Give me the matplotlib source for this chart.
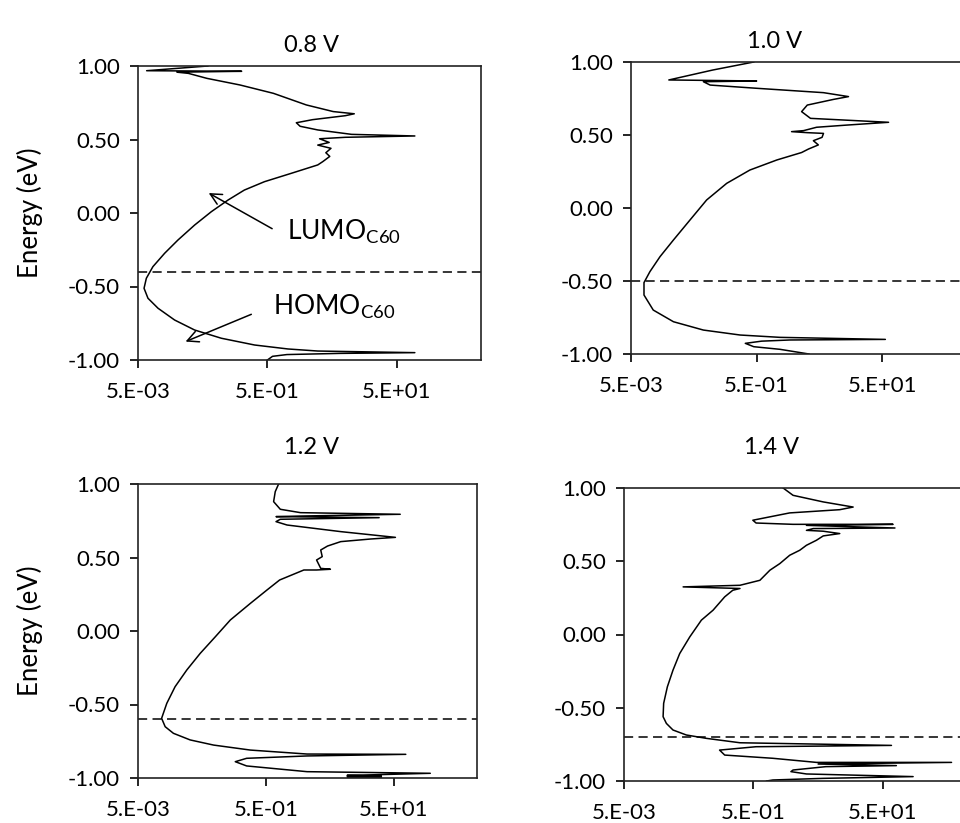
import matplotlib
matplotlib.use("Agg")
import matplotlib.pyplot as plt

plt.rcParams['font.family'] = ['Lato', 'DejaVu Sans']
plt.rcParams['mathtext.fontset'] = 'custom'
plt.rcParams['mathtext.rm'] = 'Lato'

# ---------------- data ----------------
titles = ["0.8 V", "1.0 V", "1.2 V", "1.4 V"]
xtick_vals = [0.005, 0.5, 50]
xtick_labels = ["5.E-03", "5.E-01", "5.E+01"]
ytick_vals = [-1.0, -0.5, 0.0, 0.5, 1.0]
ytick_labels = ["-1.00", "-0.50", "0.00", "0.50", "1.00"]
fermi_levels = [-0.40, -0.50, -0.60, -0.70]

dos_08 = [0.06, 0.0068, 0.20, 0.02, 0.03, 0.058, 0.188, 0.62, 2.0, 5.2, 11, 8, 2.5, 1.4,
          1.6, 3.0, 10, 95, 8, 3.2, 4.5, 3.0, 4.8, 4.0, 4.6, 3.6, 3.0, 1.17, 0.45, 0.22,
          0.123, 0.068, 0.0375, 0.0207, 0.0129, 0.0085, 0.00673, 0.0062, 0.00713, 0.0102,
          0.0184, 0.0375, 0.097, 0.317, 1.04, 3.0, 95, 6.6, 1.0, 0.6, 0.5]
energy_08 = [1.0, 0.968, 0.964, 0.958, 0.950, 0.916, 0.871, 0.814, 0.735, 0.69, 0.675, 0.662,
             0.635, 0.614, 0.590, 0.565, 0.535, 0.524, 0.515, 0.505, 0.480, 0.462, 0.440,
             0.410, 0.385, 0.350, 0.327, 0.27, 0.213, 0.156, 0.088, 0.009, -0.082, -0.184,
             -0.274, -0.365, -0.444, -0.512, -0.58, -0.648, -0.728, -0.796, -0.852, -0.898,
             -0.925, -0.939, -0.950, -0.955, -0.963, -0.975, -1.0]

dos_10 = [0.45, 0.10, 0.020, 0.50, 0.071, 0.091, 0.50, 5.8, 14.5, 8.4, 3.2, 2.6, 3.6, 19.7,
          63, 13.7, 4.5, 2.8, 1.8, 3.2, 5.8, 5.5, 4.0, 4.8, 3.35, 2.6, 1.05, 0.39, 0.167,
          0.080, 0.0435, 0.0237, 0.0145, 0.010, 0.00805, 0.00805, 0.0113, 0.0237, 0.071,
          0.273, 1.18, 56, 1.7, 0.6, 0.33, 0.45, 1.18, 3.4]
energy_10 = [1.0, 0.945, 0.877, 0.870, 0.865, 0.842, 0.82, 0.79, 0.763, 0.744, 0.705, 0.66,
             0.614, 0.598, 0.587, 0.568, 0.553, 0.530, 0.523, 0.516, 0.511, 0.484, 0.461,
             0.432, 0.404, 0.38, 0.329, 0.26, 0.169, 0.055, -0.082, -0.219, -0.333, -0.436,
             -0.511, -0.596, -0.699, -0.779, -0.836, -0.870, -0.886, -0.90, -0.904, -0.912,
             -0.927, -0.950, -0.968, -1.0]

dos_12 = [0.79, 0.70, 0.66, 0.84, 1.74, 63, 1.74, 0.72, 29.5, 0.84, 0.72, 1.07, 7.4, 53, 22,
          7.4, 4.6, 3.6, 3.8, 3.1, 3.6, 5.1, 3.1, 1.96, 0.82, 0.52, 0.286, 0.139, 0.081,
          0.047, 0.029, 0.019, 0.0141, 0.0117, 0.0133, 0.0179, 0.0327, 0.076, 0.286, 2.2,
          77, 2.2, 0.25, 0.166, 0.25, 2.2, 186, 24.5, 9.3, 32, 9.3, 32, 12]
energy_12 = [1.0, 0.948, 0.88, 0.828, 0.805, 0.794, 0.782, 0.778, 0.771, 0.76, 0.744, 0.721,
             0.676, 0.637, 0.626, 0.608, 0.578, 0.551, 0.506, 0.483, 0.426, 0.42, 0.415,
             0.415, 0.347, 0.279, 0.188, 0.075, -0.039, -0.152, -0.265, -0.379, -0.492,
             -0.594, -0.651, -0.696, -0.741, -0.776, -0.81, -0.837, -0.839, -0.850, -0.866,
             -0.889, -0.918, -0.957, -0.968, -0.978, -0.982, -0.988, -0.992, -0.996, -1.0]

dos_14 = [1.44, 2.05, 6.0, 17.4, 10.8, 1.82, 0.49, 0.55, 2.05, 72, 3.3, 77, 4.2, 3.3, 6.0,
          10.8, 6.0, 4.7, 3.3, 2.6, 1.82, 1.28, 0.9, 0.63, 0.31, 0.041, 0.31, 0.24, 0.18,
          0.119, 0.0785, 0.052, 0.0363, 0.0286, 0.0234, 0.0205, 0.0201, 0.0226, 0.0286,
          0.046, 0.094, 0.31, 68, 0.55, 0.15, 0.18, 1.0, 4.7, 577, 5.0, 81, 6.6, 2.05, 1.9,
          3.3, 147, 6.0, 1.0, 0.8]
energy_14 = [1.0, 0.95, 0.905, 0.87, 0.852, 0.83, 0.78, 0.761, 0.752, 0.752, 0.745, 0.727,
             0.723, 0.711, 0.705, 0.689, 0.673, 0.643, 0.609, 0.575, 0.541, 0.484, 0.439,
             0.37, 0.336, 0.325, 0.314, 0.302, 0.257, 0.166, 0.098, -0.016, -0.13, -0.243,
             -0.357, -0.47, -0.561, -0.607, -0.652, -0.686, -0.709, -0.739, -0.757, -0.766,
             -0.789, -0.823, -0.845, -0.873, -0.873, -0.884, -0.895, -0.902, -0.925, -0.936,
             -0.952, -0.97, -0.982, -0.993, -1.0]

series = [(dos_08, energy_08), (dos_10, energy_10), (dos_12, energy_12), (dos_14, energy_14)]

# ---------------- layout ----------------
W, H = 960, 823
fig = plt.figure(figsize=(9.6, 8.23), dpi=100)

# (left, right, top, bottom) in pixels
boxes = [(138, 481, 66, 360), (631, 964, 62, 354), (138, 477, 484, 778), (624, 967, 488, 781)]
title_pos = [(311, 45), (775, 41), (311, 447), (772, 447)]

FS = 16
axes = []
for i, (l, r, t, b) in enumerate(boxes):
    ax = fig.add_axes([l / W, 1 - b / H, (r - l) / W, (b - t) / H])
    x, y = series[i]
    ax.plot(x, y, color='black', lw=1.1)
    ax.axhline(fermi_levels[i], color='black', lw=1.1, ls=(0, (6, 3.5)))
    ax.set_xscale('log')
    ax.set_xlim(0.005, 1000)
    ax.set_ylim(-1.0, 1.0)
    ax.set_xticks(xtick_vals)
    ax.set_xticklabels(xtick_labels)
    ax.xaxis.set_minor_locator(matplotlib.ticker.NullLocator())
    ax.set_yticks(ytick_vals)
    ax.set_yticklabels(ytick_labels)
    ax.tick_params(axis='both', direction='out', length=6, width=1.2, labelsize=FS,
                   colors='black', pad=7)
    ax.tick_params(axis='x', pad=10)
    for s in ax.spines.values():
        s.set_linewidth(1.2)
        s.set_color('#222222')
    fig.text(title_pos[i][0] / W, 1 - title_pos[i][1] / H, titles[i], ha='center',
             va='center', fontsize=17)
    axes.append(ax)

for cy in ((66 + 360) / 2, (484 + 778) / 2):
    fig.text(30 / W, 1 - cy / H, "Energy (eV)", rotation=90, ha='center', va='center',
             fontsize=18.5)

# annotations in first panel
ax = axes[0]
ax.annotate("", xy=(0.0568, 0.145), xytext=(0.645, -0.116),
            arrowprops=dict(arrowstyle='->', lw=1.1, color='black', mutation_scale=20))
ax.annotate("", xy=(0.0248, -0.882), xytext=(0.309, -0.682),
            arrowprops=dict(arrowstyle='->', lw=1.1, color='black', mutation_scale=20))
ax.text(1.0, -0.13, r"LUMO$_{\mathrm{C60}}$", fontsize=19, ha='left', va='center')
ax.text(0.62, -0.64, r"HOMO$_{\mathrm{C60}}$", fontsize=19, ha='left', va='center')

fig.savefig("out.png", dpi=100)
